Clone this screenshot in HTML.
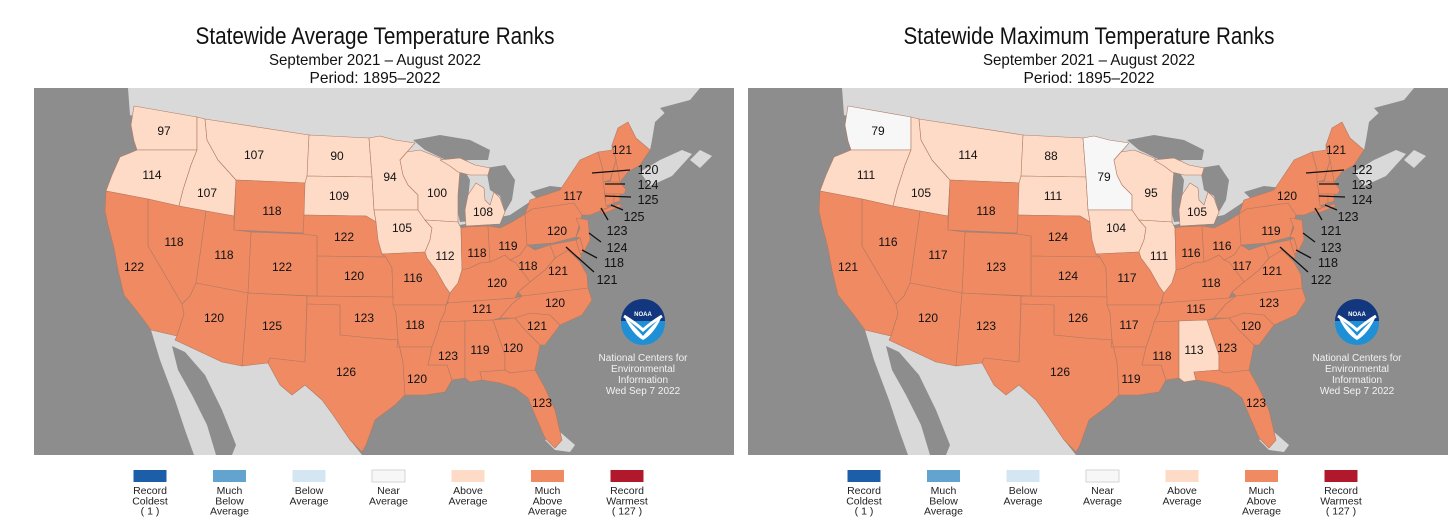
<!DOCTYPE html>
<html><head><meta charset="utf-8"><style>
html,body{margin:0;padding:0;background:#fff;}
svg{display:block;font-family:"Liberation Sans",sans-serif;}
</style></head><body>
<svg id="chart" width="1456" height="526" viewBox="0 0 1456 526" xmlns="http://www.w3.org/2000/svg"></svg>
<script>
// ---- data ----
const stateCodes = ["WA","OR","ID","MT","WY","ND","SD","NE","KS","CO","UT","NV","CA","AZ","NM","OK","TX","MN","IA","MO","AR","LA","WI","IL","MI","IN","OH","KY","TN","MS","AL","GA","FL","SC","NC","VA","WV","PA","NY","ME"];
const avgRanks = [97,114,107,107,118,90,109,122,120,122,118,118,122,120,125,123,126,94,105,116,118,120,100,112,108,118,119,120,121,123,119,120,123,121,120,121,118,120,117,121];
const maxRanks = [79,111,105,114,118,88,111,124,124,123,117,116,121,120,123,126,126,79,104,117,117,119,95,111,105,116,116,118,115,118,113,123,123,120,123,121,117,119,120,121];
const calloutCodes = ["VT","NH","MA","RI","CT","NJ","DE","MD"];
const avgCallout = [120,124,125,125,123,124,118,121];
const maxCallout = [122,123,124,123,121,123,118,122];
const panelTitles = ["Statewide Average Temperature Ranks","Statewide Maximum Temperature Ranks"];
const legendLabels = [["Record","Coldest","( 1 )"],["Much","Below","Average"],["Below","Average"],["Near","Average"],["Above","Average"],["Much","Above","Average"],["Record","Warmest","( 127 )"]];
const legendColors = ["#1c5ea8","#62a3cf","#d3e6f1","#f7f7f7","#fddbc7","#ef8a62","#b2182b"];

// ---- geometry (left-panel pixel coords) ----
const GEO = {
WA:"134,106 197,117 197,150 137,150 134,141 131,125",
OR:"137,150 197,150 191,165 183,190 179,206 148,199 106,191 112,175 120,157",
ID:"197,117 205,119 207,140 218,160 236,180 234,216 206,211 179,206 183,190 191,165 197,150",
MT:"205,119 309,135 307,183 236,180 218,160 207,140",
WY:"236,180 307,183 303,233 234,230",
ND:"309,135 369,138 372,177 307,176",
SD:"307,176 372,177 374,210 376,222 366,216 304,215 305,183",
NE:"304,215 366,216 376,222 378,225 386,257 317,256 317,236 303,234",
KS:"317,256 386,257 392,268 393,297 317,296",
CO:"251,232 303,234 317,236 317,296 248,293",
UT:"206,211 234,216 234,230 251,232 248,293 196,283",
NV:"148,199 179,206 206,211 196,283 190,296 182,304 148,246",
CA:"106,191 148,199 148,246 182,304 184,314 177,336 151,330 140,315 124,295 118,270 114,248 108,225 105,211",
AZ:"196,283 248,293 245,330 242,366 222,362 175,340 177,336 184,314 182,304 190,296",
NM:"248,293 307,296 305,362 270,358 268,363 242,366 245,330",
OK:"307,296 393,297 396,313 398,340 370,338 340,335 340,305 307,304",
TX:"307,304 340,305 340,335 370,338 398,340 403,362 405,395 395,405 375,420 366,445 362,452 350,440 333,415 322,400 305,385 292,395 280,385 268,363 270,358 305,362",
MN:"369,138 380,136 395,140 415,143 407,152 400,160 403,175 408,185 418,195 418,210 374,210 372,177",
IA:"374,210 418,210 425,220 432,228 430,240 425,252 382,254 378,240 376,222",
MO:"382,254 425,252 427,258 436,270 445,286 450,293 448,300 446,305 393,305 393,297 392,268 386,257",
AR:"393,305 446,305 445,312 440,322 438,330 432,347 397,347 398,340 396,313",
LA:"397,347 432,347 428,365 447,365 452,380 445,392 425,395 405,395 403,362 398,340",
WI:"407,152 420,150 440,158 450,165 460,170 458,195 458,222 425,220 418,210 418,195 408,185 403,175 400,160",
IL:"425,220 458,222 461,228 462,270 458,283 450,293 445,286 436,270 427,258 425,252 430,240 432,228",
MI:"466,226 500,224 505,212 500,198 494,192 490,205 485,200 484,188 476,183 468,195 465,210 M440,160 460,158 475,165 490,168 488,175 470,175 458,172 450,166",
IN:"461,228 466,227 488,226 490,262 480,263 470,268 462,270",
OH:"488,226 500,228 512,222 525,214 527,245 520,255 510,260 505,255 495,260 490,262",
KY:"448,300 450,293 458,283 462,270 470,268 480,263 490,262 495,260 505,255 510,260 515,262 525,275 530,282 518,292 515,298 448,303",
TN:"448,303 515,298 522,296 512,304 500,318 493,320 465,321 440,322 445,312 446,305",
MS:"440,322 465,321 465,378 452,380 447,365 428,365 432,347 438,330",
AL:"465,321 493,320 505,355 505,370 480,372 482,380 470,382 465,378",
GA:"493,320 515,318 525,330 540,345 535,370 510,373 505,370 505,355",
FL:"480,372 505,370 510,373 535,370 545,388 555,410 562,440 555,448 545,438 535,415 528,398 515,388 500,383 482,380",
SC:"515,318 530,313 550,315 560,325 545,345 540,345 525,330",
NC:"522,296 588,288 592,300 582,315 560,325 550,315 530,313 515,318 500,318 512,304",
VA:"518,292 530,282 545,270 555,258 568,250 580,262 587,275 588,288 522,296",
WV:"527,245 535,250 550,245 553,252 555,258 545,270 530,282 525,275 515,262 510,260 520,255",
PA:"525,214 532,209 574,203 582,215 576,237 553,243 527,245",
NY:"525,214 530,200 545,195 560,190 570,175 580,160 598,152 603,170 605,200 608,208 590,215 582,215 574,203 532,209 M600,210 620,204 622,206 602,214",
ME:"612,145 618,128 628,122 636,138 650,150 640,165 628,172 620,182 616,160",
VT:"598,152 612,150 612,145 616,160 610,180 603,182 603,170",
NH:"612,145 616,160 620,182 610,182 616,160",
MA:"603,182 620,182 626,190 624,194 605,194",
CT:"605,194 614,194 614,203 606,206",
RI:"614,194 620,194 620,201 614,203",
NJ:"576,218 588,220 590,240 584,252 580,238 576,237 580,228",
DE:"576,240 580,238 584,252 580,254",
MD:"550,245 576,240 579,250 582,258 574,256 568,250 555,258 553,252"
};
const LBL = {WA:[164,131],OR:[152,175],ID:[207,193],MT:[254,155],WY:[272,211],ND:[337,156],SD:[339,196],NE:[344,237],KS:[354,276],CO:[282,267],UT:[224,255],NV:[174,242],CA:[134,267],AZ:[214,318],NM:[272,326],OK:[364,318],TX:[346,372],MN:[390,177],IA:[402,228],MO:[413,278],AR:[415,325],LA:[417,379],WI:[437,193],IL:[445,256],MI:[483,212],IN:[477,253],OH:[508,246],KY:[497,283],TN:[482,309],MS:[448,356],AL:[480,350],GA:[513,348],FL:[542,403],SC:[537,326],NC:[555,303],VA:[558,271],WV:[528,266],PA:[557,231],NY:[573,196],ME:[622,150]};
const CALL = {VT:[[592,173,630,170],[648,170]],NH:[[605,184,625,184],[648,185]],MA:[[605,196,631,197],[648,200]],RI:[[611,205,623,210],[634,217]],CT:[[601,208,608,220],[617,231]],NJ:[[589,233,601,242],[617,248]],DE:[[582,250,597,258],[614,263]],MD:[[566,247,594,272],[607,280]]};

const NS="http://www.w3.org/2000/svg";
const svg=document.getElementById('chart');
function mk(tag,attrs,parent){const e=document.createElementNS(NS,tag);for(const k in attrs)e.setAttribute(k,attrs[k]);(parent||svg).appendChild(e);return e;}
function rankColor(r){
  if(r>=127) return legendColors[6];
  if(r>=115) return legendColors[5];
  if(r>=86) return legendColors[4];
  if(r>=44) return legendColors[3];
  if(r>=14) return legendColors[2];
  if(r>=2) return legendColors[1];
  return legendColors[0];
}
function ptsToPath(s){return s.split(' M').map(p=>'M'+p.replace(/^M/,'').trim().split(' ').join(' L')+' Z').join(' ');}

function drawPanel(idx, ranks, callouts){
  const g=mk('g',{transform:'translate('+(idx*714)+',0)'});
  
  
  // titles
  const t1=mk('text',{x:375,y:44,'text-anchor':'middle','font-size':24,fill:'#111',textLength:idx===0?359:371,lengthAdjust:'spacingAndGlyphs'},g);
  t1.textContent=panelTitles[idx];
  
  
  const t2=mk('text',{x:375,y:65,'text-anchor':'middle','font-size':16,fill:'#111',textLength:212,lengthAdjust:'spacingAndGlyphs'},g);
  t2.textContent='September 2021 – August 2022';
  
  
  const t3=mk('text',{x:375,y:83,'text-anchor':'middle','font-size':16,fill:'#111',textLength:131,lengthAdjust:'spacingAndGlyphs'},g);
  t3.textContent='Period: 1895–2022';
  
  
  // map frame
  const bg=mk('rect',{x:34,y:88,width:700,height:367,fill:'#8d8d8d'},g);
  
  
  const can=mk('polygon',{points:'128,88 700,88 690,100 670,108 655,122 652,140 650,150 630,170 600,175 570,185 540,195 510,215 460,225 380,215 300,170 130,115',fill:'#d9d9d9'},g);
  
  
  mk('polygon',{points:'660,108 690,100 715,115 700,135 680,130',fill:'#8d8d8d'},g);
  mk('polygon',{points:'640,172 660,160 682,150 692,154 672,176 650,186',fill:'#d9d9d9'},g);
  mk('polygon',{points:'690,160 700,150 712,156 700,168',fill:'#d9d9d9'},g);
  const mex=mk('polygon',{points:'151,330 177,336 222,362 242,366 268,363 280,385 292,395 305,385 322,400 333,415 350,440 362,455 194,455 185,430 175,400 160,360',fill:'#d9d9d9'},g);
  
  
  mk('polygon',{points:'172,346 185,352 205,375 222,410 236,445 232,455 216,455 207,425 192,395 178,370',fill:'#8d8d8d'},g);
  mk('polygon',{points:'545,440 560,432 575,445 570,452 555,450',fill:'#d9d9d9'},g);
  // great lakes
  const lakes=['413,140 440,135 470,140 490,150 488,160 470,160 450,162 425,150','453,168 462,166 470,180 468,200 470,221 460,222 455,200','486,168 505,165 515,180 512,200 505,212 500,196 490,190','513,214 535,207 555,205 553,215 530,222','530,192 550,186 568,188 565,199 540,202'];
  lakes.forEach(p=>{const l=mk('polygon',{points:p,fill:'#8d8d8d'},g);});
  // states
  const colorOf={};
  stateCodes.forEach((c,i)=>{colorOf[c]=rankColor(ranks[i]);});
  calloutCodes.forEach((c,i)=>{colorOf[c]=rankColor(callouts[i]);});
  Object.keys(GEO).forEach(c=>{
    const p=mk('path',{d:ptsToPath(GEO[c]),fill:colorOf[c]||'#ef8a62',stroke:'#b27a62','stroke-width':0.6,'stroke-linejoin':'round'},g);
    
    
  });
  stateCodes.forEach((c,i)=>{
    const t=mk('text',{x:LBL[c][0],y:LBL[c][1]+4,'text-anchor':'middle','font-size':12,fill:'#111'},g);
    t.textContent=ranks[i];
    
    
  });
  calloutCodes.forEach((c,i)=>{
    const L=CALL[c];
    const ln=mk('line',{x1:L[0][0],y1:L[0][1],x2:L[0][2],y2:L[0][3],stroke:'#111','stroke-width':1.3},g);
    
    
    const t=mk('text',{x:L[1][0],y:L[1][1]+4,'text-anchor':'middle','font-size':12.5,fill:'#111'},g);
    t.textContent=callouts[i];
    
    
  });
  // NOAA logo
  const logo=mk('g',{},g);
  
  
  mk('circle',{cx:643,cy:323,r:22,fill:'#1f8fd6'},logo);
  mk('path',{d:'M621,321 A22,22 0 0 1 665,321 Z',fill:'#12377e'},logo);
  mk('path',{d:'M624,316 Q636,328 643,336 Q650,328 662,316 Q654,334 643,340 Q632,334 624,316 Z',fill:'#fff'},logo);
  mk('path',{d:'M624,316 Q634,322 643,330 Q652,322 662,316',fill:'none',stroke:'#fff','stroke-width':3},logo);
  const nt=mk('text',{x:643,y:316,'text-anchor':'middle','font-size':6,'font-weight':'bold',fill:'#fff'},logo);
  nt.textContent='NOAA';
  ['National Centers for','Environmental','Information','Wed Sep  7 2022'].forEach((s,k)=>{
    const t=mk('text',{x:643,y:361+k*11,'text-anchor':'middle','font-size':10,fill:'#f2f2f2'},g);
    t.textContent=s;
    
    
  });
  // legend
  legendLabels.forEach((lines,k)=>{
    const cx=150+k*79.5;
    const r=mk('rect',{x:cx-16.5,y:470,width:33,height:12,fill:legendColors[k],stroke:k===3?'#ccc':'none','stroke-width':0.8},g);
    
    
    lines.forEach((s,j)=>{
      const t=mk('text',{x:cx,y:494+j*10.3,'text-anchor':'middle','font-size':10.5,fill:'#222'},g);
      t.textContent=s;
      
      
    });
  });
}
drawPanel(0, avgRanks, avgCallout);
drawPanel(1, maxRanks, maxCallout);
</script>
</body></html>
